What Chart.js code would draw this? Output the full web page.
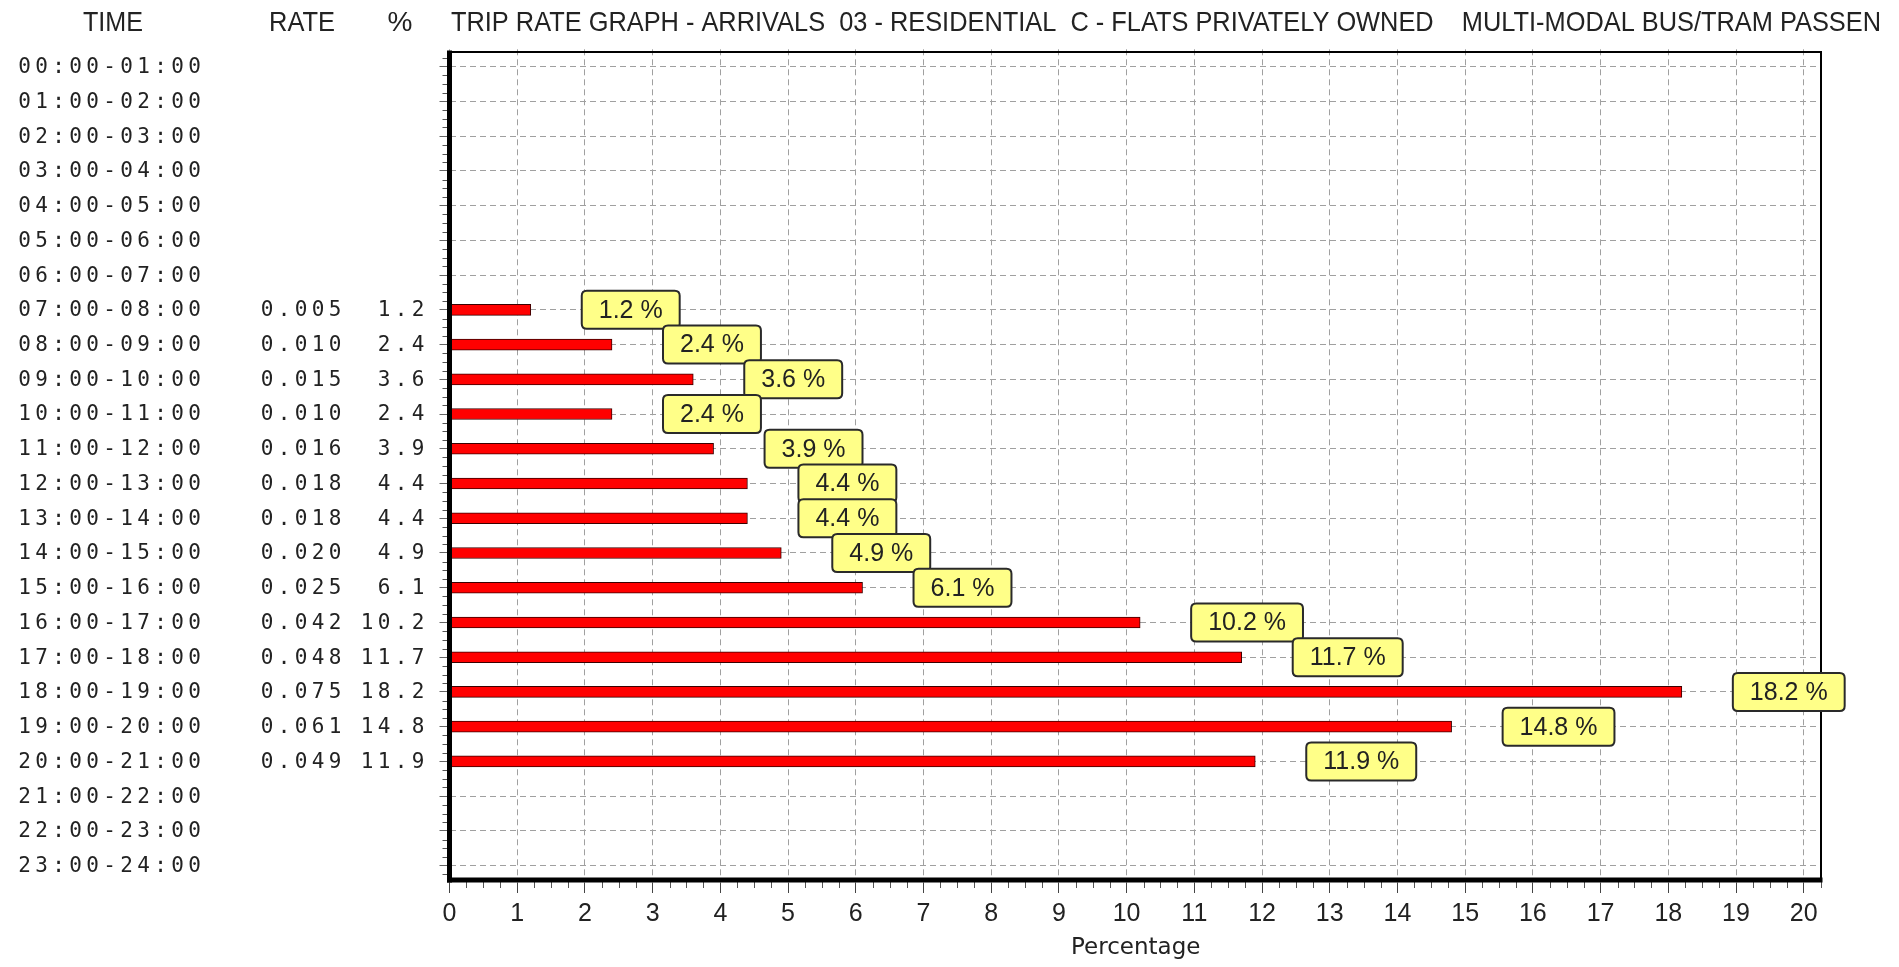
<!DOCTYPE html>
<html>
<head>
<meta charset="utf-8">
<script src="https://cdn.jsdelivr.net/npm/chart.js@4.4.1/dist/chart.umd.min.js"></script>
<style>
html,body{margin:0;padding:0;background:#fff;overflow:hidden}
canvas{display:block}
</style>
</head>
<body>
<canvas id="c" width="1899" height="967"></canvas>
<script>
// ---- data ----
const timeLabels = [
  '00:00-01:00','01:00-02:00','02:00-03:00','03:00-04:00','04:00-05:00','05:00-06:00',
  '06:00-07:00','07:00-08:00','08:00-09:00','09:00-10:00','10:00-11:00','11:00-12:00',
  '12:00-13:00','13:00-14:00','14:00-15:00','15:00-16:00','16:00-17:00','17:00-18:00',
  '18:00-19:00','19:00-20:00','20:00-21:00','21:00-22:00','22:00-23:00','23:00-24:00'
];
const rateValues = [null,null,null,null,null,null,null,
  0.005,0.010,0.015,0.010,0.016,0.018,0.018,0.020,0.025,0.042,0.048,0.075,0.061,0.049,
  null,null,null];
const pctValues = [null,null,null,null,null,null,null,
  1.2,2.4,3.6,2.4,3.9,4.4,4.4,4.9,6.1,10.2,11.7,18.2,14.8,11.9,
  null,null,null];
const xTickValues = [0,1,2,3,4,5,6,7,8,9,10,11,12,13,14,15,16,17,18,19,20];
const headerLabels = ['TIME','RATE','%'];
const titleText = 'TRIP RATE GRAPH - ARRIVALS  03 - RESIDENTIAL  C - FLATS PRIVATELY OWNED    MULTI-MODAL BUS/TRAM PASSEN';
const xAxisTitle = 'Percentage';

// ---- drawing helpers ----
function monoText(ctx, str, firstCenter, y, adv) {
  for (let i = 0; i < str.length; i++) {
    ctx.fillText(str[i], firstCenter + i * adv, y);
  }
}
function monoTextRight(ctx, str, lastCenter, y, adv) {
  const first = lastCenter - (str.length - 1) * adv;
  monoText(ctx, str, first, y, adv);
}
function line(ctx, x1, y1, x2, y2) {
  ctx.beginPath(); ctx.moveTo(x1, y1); ctx.lineTo(x2, y2); ctx.stroke();
}
function roundRect(ctx, x, y, w, h, r) {
  ctx.beginPath();
  ctx.moveTo(x + r, y);
  ctx.lineTo(x + w - r, y); ctx.quadraticCurveTo(x + w, y, x + w, y + r);
  ctx.lineTo(x + w, y + h - r); ctx.quadraticCurveTo(x + w, y + h, x + w - r, y + h);
  ctx.lineTo(x + r, y + h); ctx.quadraticCurveTo(x, y + h, x, y + h - r);
  ctx.lineTo(x, y + r); ctx.quadraticCurveTo(x, y, x + r, y);
  ctx.closePath();
}

const decor = {
  id: 'decor',
  beforeDraw(chart) {
    const ctx = chart.ctx;
    ctx.save(); ctx.fillStyle = '#fff'; ctx.fillRect(0, 0, chart.width, chart.height); ctx.restore();
  },
  afterDatasetsDraw(chart) {
    const {ctx, chartArea: a, scales: {x, y}} = chart;
    const topY = a.top + 2.7, botY = a.bottom - 3;
    ctx.save();
    // minor ticks on bottom axis (quarter units)
    ctx.lineWidth = 1; ctx.strokeStyle = '#555';
    for (let v = 0; v <= 20.25; v += 0.25) {
      if (Math.abs(v - Math.round(v)) < 1e-6) continue;
      const px = Math.round(x.getPixelForValue(v)) + 0.5;
      line(ctx, px, botY, px, botY + 8);
    }
    // minor ticks on left axis (quarter rows)
    const step = y.getPixelForValue(1) - y.getPixelForValue(0);
    for (let i = -1; i < timeLabels.length; i++) {
      for (let q = 1; q < 4; q++) {
        const py = y.getPixelForValue(i) + step * q / 4;
        if (py < topY || py > botY) continue;
        line(ctx, a.left - 7, Math.round(py) + 0.5, a.left, Math.round(py) + 0.5);
      }
    }
    // top & right borders
    ctx.strokeStyle = '#000';
    ctx.lineWidth = 2;
    line(ctx, a.left, topY, a.right, topY);
    line(ctx, a.right - 1, topY, a.right - 1, botY);
    // thick axes
    ctx.lineWidth = 5;
    line(ctx, a.left, topY - 1.5, a.left, botY + 2.5);
    line(ctx, a.left - 2.5, botY, a.right + 0.5, botY);
    ctx.restore();
  },
  afterDraw(chart) {
    const {ctx, scales: {x, y}} = chart;
    ctx.save();
    ctx.fillStyle = '#222';
    // header
    ctx.font = '28px "Liberation Sans Narrow", "Liberation Sans", Arial, sans-serif';
    ctx.textBaseline = 'alphabetic';
    ctx.textAlign = 'center';
    ctx.fillText(headerLabels[0], 113, 31, 60);
    ctx.fillText(headerLabels[1], 302, 31, 66);
    ctx.fillText(headerLabels[2], 400, 31);
    ctx.textAlign = 'left';
    ctx.fillText(titleText, 451, 31, 1430);
    // left columns
    ctx.font = '21px "DejaVu Sans Mono", monospace';
    ctx.textAlign = 'center';
    ctx.textBaseline = 'middle';
    for (let i = 0; i < timeLabels.length; i++) {
      const py = y.getPixelForValue(i) + 1;
      monoText(ctx, timeLabels[i], 24.5, py, 17);
      if (rateValues[i] != null) monoTextRight(ctx, rateValues[i].toFixed(3), 335, py, 17);
      if (pctValues[i] != null) monoTextRight(ctx, pctValues[i].toFixed(1), 418, py, 17);
    }
    // value label boxes
    ctx.font = '25px "Liberation Sans", Arial, sans-serif';
    for (let i = 0; i < pctValues.length; i++) {
      const v = pctValues[i];
      if (v == null) continue;
      const txt = v.toFixed(1) + ' %';
      const w = ctx.measureText(txt).width + 34;
      const h = 38;
      const bx = x.getPixelForValue(v) + 51;
      const cy = y.getPixelForValue(i);
      roundRect(ctx, bx, cy - h / 2, w, h, 5);
      ctx.fillStyle = '#ffff88';
      ctx.fill();
      ctx.lineWidth = 2;
      ctx.strokeStyle = '#2a2a2a';
      ctx.stroke();
      ctx.fillStyle = '#222';
      ctx.textAlign = 'center';
      ctx.textBaseline = 'middle';
      ctx.fillText(txt, bx + w / 2, cy + 1);
    }
    ctx.restore();
  }
};

new Chart(document.getElementById('c'), {
  type: 'bar',
  data: {
    labels: timeLabels,
    datasets: [{
      data: pctValues,
      backgroundColor: '#ff0000',
      borderColor: '#3a0000',
      borderWidth: 1,
      borderSkipped: false,
      barThickness: 11
    }]
  },
  options: {
    indexAxis: 'y',
    responsive: false,
    animation: false,
    events: [],
    layout: { padding: { left: 437.5, right: 77, top: 49.3, bottom: 0 } },
    plugins: { legend: { display: false }, tooltip: { enabled: false }, title: { display: false } },
    scales: {
      y: {
        type: 'category',
        offset: true,
        grid: { offset: false, color: '#a0a0a0', lineWidth: 1, drawTicks: true, tickLength: 10, tickColor: '#666', tickBorderDash: [] },
        border: { display: false, dash: [6, 4] },
        ticks: { display: false },
        afterFit(s) { s.width = 12; }
      },
      x: {
        type: 'linear',
        min: 0,
        max: 20.27,
        grid: { color: '#a0a0a0', lineWidth: 1, drawTicks: true, tickLength: 10, tickColor: '#444', tickBorderDash: [] },
        border: { display: false, dash: [6, 4] },
        afterBuildTicks(s) { s.ticks = xTickValues.map(v => ({ value: v })); },
        ticks: {
          color: '#222',
          padding: 6,
          font: { family: '"Liberation Sans Narrow", "Liberation Sans", Arial, sans-serif', size: 25 },
          callback: v => String(v)
        },
        title: {
          display: true,
          text: xAxisTitle,
          color: '#222',
          font: { family: '"DejaVu Sans", sans-serif', size: 23 },
          padding: { top: 0, bottom: 5 }
        },
        afterFit(s) { s.height = 84; }
      }
    }
  },
  plugins: [decor]
});
</script>
</body>
</html>
